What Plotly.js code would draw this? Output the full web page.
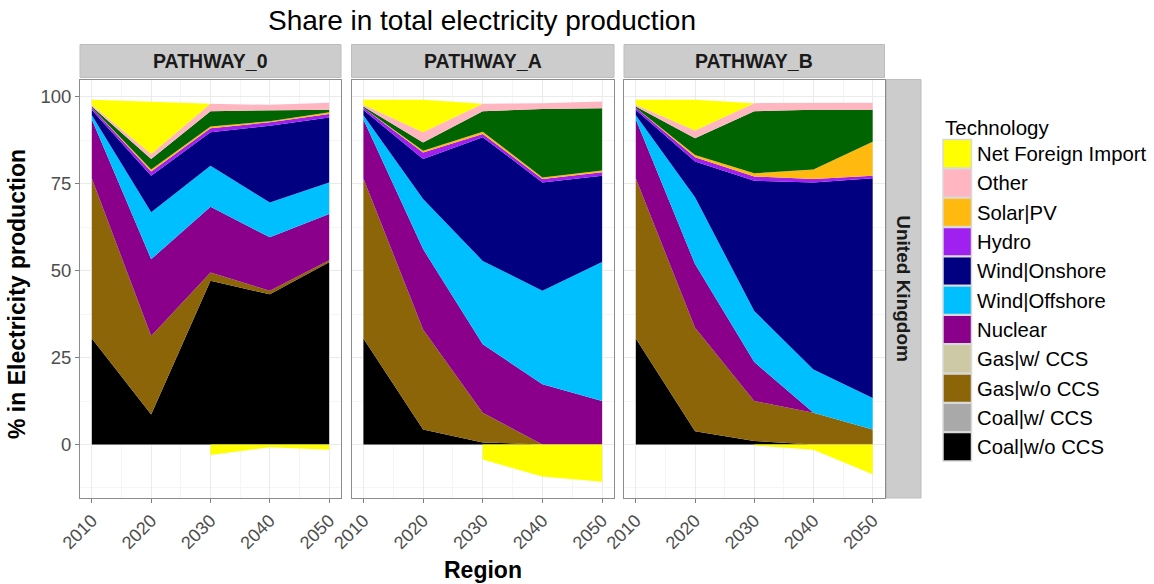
<!DOCTYPE html>
<html><head><meta charset="utf-8">
<script src="https://cdn.plot.ly/plotly-3.0.1.min.js"></script>
<style>html,body{margin:0;padding:0;background:#fff}#chart{width:1154px;height:584px}</style>
</head><body><div id="chart"></div>
<script>
// ---------- data ----------
const years = [2010, 2020, 2030, 2040, 2050];
const yearLabels = ['2010', '2020', '2030', '2040', '2050'];
const pathwayNames = ['PATHWAY_0', 'PATHWAY_A', 'PATHWAY_B'];
const regionName = 'United Kingdom';

// stacking order, bottom to top
const techOrder = ['Coal|w/o CCS', 'Coal|w/ CCS', 'Gas|w/o CCS', 'Gas|w/ CCS', 'Nuclear',
  'Wind|Offshore', 'Wind|Onshore', 'Hydro', 'Solar|PV', 'Biomass', 'Other', 'Net Foreign Import'];
const techColors = ['#000000', '#A9A9A9', '#8B6508', '#CDC9A5', '#8B008B',
  '#00BFFF', '#000080', '#A020F0', '#FFB90F', '#006400', '#FFB6C1', '#FFFF00'];
// legend entries (top to bottom)
const legendNames = ['Net Foreign Import', 'Other', 'Solar|PV', 'Hydro', 'Wind|Onshore', 'Wind|Offshore',
  'Nuclear', 'Gas|w/ CCS', 'Gas|w/o CCS', 'Coal|w/ CCS', 'Coal|w/o CCS'];

// PATHWAY_0
const p0_coal     = [30.5, 8.6, 47.1, 43.2, 52.4];
const p0_coalCCS  = [0, 0, 0, 0, 0];
const p0_gas      = [46.0, 22.6, 2.4, 1.0, 0.6];
const p0_gasCCS   = [0, 0, 0, 0, 0];
const p0_nuclear  = [17.0, 22.1, 18.9, 15.4, 13.3];
const p0_offshore = [1.2, 13.5, 11.8, 10.0, 9.1];
const p0_onshore  = [1.5, 10.5, 9.6, 22.1, 18.7];
const p0_hydro    = [0.7, 1.2, 1.2, 1.0, 1.0];
const p0_solar    = [0.0, 0.6, 0.5, 0.3, 0.5];
const p0_biomass  = [0.3, 3.0, 4.4, 3.1, 0.7];
const p0_other    = [0.5, 1.5, 2.1, 1.6, 2.0];
const p0_import   = [1.5, 15.0, -3.0, -0.8, -1.5];

// PATHWAY_A
const pA_coal     = [30.5, 4.3, 0.6, 0, 0];
const pA_coalCCS  = [0, 0, 0, 0, 0];
const pA_gas      = [46.0, 28.8, 8.5, 0, 0];
const pA_gasCCS   = [0, 0, 0, 0, 0];
const pA_nuclear  = [17.0, 23.1, 19.7, 17.3, 12.5];
const pA_offshore = [1.2, 14.4, 24.0, 26.9, 40.0];
const pA_onshore  = [1.5, 11.5, 35.6, 31.2, 24.8];
const pA_hydro    = [0.7, 1.9, 0.9, 1.0, 1.0];
const pA_solar    = [0.0, 0.5, 0.7, 0.4, 0.5];
const pA_biomass  = [0.3, 2.4, 5.9, 19.7, 17.9];
const pA_other    = [0.5, 2.9, 2.1, 1.7, 2.0];
const pA_import   = [1.5, 9.4, -4.3, -9.2, -10.7];

// PATHWAY_B
const pB_coal     = [30.5, 3.8, 1.0, 0, 0];
const pB_coalCCS  = [0, 0, 0, 0, 0];
const pB_gas      = [46.0, 29.8, 11.5, 9.1, 4.3];
const pB_gasCCS   = [0, 0, 0, 0, 0];
const pB_nuclear  = [17.0, 18.3, 11.2, 0, 0];
const pB_offshore = [1.2, 19.2, 14.7, 12.5, 9.1];
const pB_onshore  = [1.5, 10.3, 37.5, 53.8, 63.2];
const pB_hydro    = [0.7, 1.2, 1.2, 1.0, 0.7];
const pB_solar    = [0.0, 0.7, 0.9, 2.7, 9.8];
const pB_biomass  = [0.3, 4.8, 17.9, 17.2, 9.2];
const pB_other    = [0.5, 2.2, 2.3, 1.9, 2.0];
const pB_import   = [1.5, 8.9, -0.3, -1.5, -8.6];

const yTicks = [0, 25, 50, 75, 100];

// ---------- layout helpers ----------
const W = 1154, H = 584;
const fx = v => v / W;
const fy = v => 1 - v / H;
const FONT = '"Liberation Sans", Arial, Helvetica, sans-serif';

const panels = [
  {series: [p0_coal, p0_coalCCS, p0_gas, p0_gasCCS, p0_nuclear, p0_offshore, p0_onshore, p0_hydro, p0_solar, p0_biomass, p0_other, p0_import], x0: 80, x1: 341, xa: 'x', ya: 'y'},
  {series: [pA_coal, pA_coalCCS, pA_gas, pA_gasCCS, pA_nuclear, pA_offshore, pA_onshore, pA_hydro, pA_solar, pA_biomass, pA_other, pA_import], x0: 351.5, x1: 614, xa: 'x2', ya: 'y2'},
  {series: [pB_coal, pB_coalCCS, pB_gas, pB_gasCCS, pB_nuclear, pB_offshore, pB_onshore, pB_hydro, pB_solar, pB_biomass, pB_other, pB_import], x0: 624, x1: 884.5, xa: 'x3', ya: 'y3'}
];
const panelTop = 79.5, panelBot = 498;

const traces = [];
panels.forEach((p, pi) => {
  p.series.forEach((arr, ti) => {
    const isImport = ti === p.series.length - 1;
    traces.push({
      type: 'scatter', mode: 'lines', x: years,
      y: isImport ? arr.map(v => Math.max(v, 0)) : arr,
      stackgroup: 'stack' + pi, line: {width: 0, color: techColors[ti]},
      fillcolor: techColors[ti], xaxis: p.xa, yaxis: p.ya,
      name: techOrder[ti], showlegend: false, hoverinfo: 'skip'
    });
    if (isImport) {
      const nx = [], ny = [];
      arr.forEach((v, k) => { if (v < 0) { nx.push(years[k]); ny.push(v); } });
      traces.push({
        type: 'scatter', mode: 'lines', x: nx, y: ny, fill: 'tozeroy',
        line: {width: 0, color: techColors[ti]}, fillcolor: techColors[ti],
        xaxis: p.xa, yaxis: p.ya, showlegend: false, hoverinfo: 'skip'
      });
    }
  });
});

const layout = {
  width: W, height: H, margin: {l: 0, r: 0, t: 0, b: 0},
  paper_bgcolor: '#ffffff', plot_bgcolor: '#ffffff', showlegend: false,
  font: {family: FONT, color: '#000'},
  shapes: [], annotations: []
};

panels.forEach((p, i) => {
  const sfx = i === 0 ? '' : String(i + 1);
  layout['xaxis' + sfx] = {
    domain: [fx(p.x0), fx(p.x1)], anchor: 'y' + sfx, range: [2008, 2052],
    tickmode: 'array', tickvals: years, ticktext: yearLabels, tickangle: -45,
    ticks: 'outside', ticklen: 4, tickcolor: '#7f7f7f', tickwidth: 1,
    tickfont: {size: 18, color: '#4d4d4d', family: FONT},
    showgrid: true, gridcolor: '#ebebeb', gridwidth: 1, zeroline: false,
    minor: {tickvals: [2015, 2025, 2035, 2045], showgrid: true, gridcolor: '#f5f5f5', gridwidth: 1, ticks: ''},
    showline: true, linecolor: '#8c8c8c', linewidth: 1, mirror: true, fixedrange: true
  };
  layout['yaxis' + sfx] = {
    domain: [fy(panelBot), fy(panelTop)], anchor: 'x' + sfx, range: [-15.4, 105],
    tickmode: 'array', tickvals: yTicks, ticktext: yTicks.map(String),
    ticks: i === 0 ? 'outside' : '', ticklen: 4, tickcolor: '#7f7f7f', tickwidth: 1,
    showticklabels: i === 0, tickfont: {size: 18.5, color: '#4d4d4d', family: FONT},
    showgrid: true, gridcolor: '#ebebeb', gridwidth: 1, zeroline: false,
    minor: {tickvals: [-12.5, 12.5, 37.5, 62.5, 87.5], showgrid: true, gridcolor: '#f5f5f5', gridwidth: 1, ticks: ''},
    showline: true, linecolor: '#8c8c8c', linewidth: 1, mirror: true, fixedrange: true
  };
  // top strip
  layout.shapes.push({type: 'rect', xref: 'paper', yref: 'paper', x0: fx(p.x0), x1: fx(p.x1), y0: fy(77.5), y1: fy(44.5),
    fillcolor: '#cccccc', line: {color: '#bdbdbd', width: 1}, layer: 'below'});
  layout.annotations.push({xref: 'paper', yref: 'paper', x: fx((p.x0 + p.x1) / 2), y: fy(61), text: pathwayNames[i],
    showarrow: false, xanchor: 'center', yanchor: 'middle', font: {size: 19.5, color: '#1a1a1a', weight: 'bold', family: FONT}});
});

// right strip
layout.shapes.push({type: 'rect', xref: 'paper', yref: 'paper', x0: fx(886.5), x1: fx(921), y0: fy(panelBot), y1: fy(panelTop),
  fillcolor: '#cccccc', line: {color: '#bdbdbd', width: 1}, layer: 'below'});
layout.annotations.push({xref: 'paper', yref: 'paper', x: fx(903.5), y: fy((panelTop + panelBot) / 2), text: regionName,
  textangle: 90, showarrow: false, xanchor: 'center', yanchor: 'middle', font: {size: 19, color: '#1a1a1a', weight: 'bold', family: FONT}});

// titles
layout.annotations.push({xref: 'paper', yref: 'paper', x: fx(482), y: fy(21), text: 'Share in total electricity production',
  showarrow: false, xanchor: 'center', yanchor: 'middle', font: {size: 28, color: '#000', family: FONT}});
layout.annotations.push({xref: 'paper', yref: 'paper', x: fx(483), y: fy(570), text: 'Region',
  showarrow: false, xanchor: 'center', yanchor: 'middle', font: {size: 23, color: '#000', weight: 'bold', family: FONT}});
layout.annotations.push({xref: 'paper', yref: 'paper', x: fx(17), y: fy(294), text: '% in Electricity production', textangle: -90,
  showarrow: false, xanchor: 'center', yanchor: 'middle', font: {size: 23, color: '#000', weight: 'bold', family: FONT}});

// legend
layout.annotations.push({xref: 'paper', yref: 'paper', x: fx(943), y: fy(127), text: 'Technology',
  showarrow: false, xanchor: 'left', yanchor: 'middle', font: {size: 20.5, color: '#000', family: FONT}});
const keyTop = 139.5, keyStep = 29.3, keyW = 28.5;
legendNames.forEach((nm, k) => {
  const col = techColors[techOrder.indexOf(nm)];
  const y0 = keyTop + k * keyStep;
  layout.shapes.push({type: 'rect', xref: 'paper', yref: 'paper', x0: fx(943), x1: fx(943 + keyW), y0: fy(y0 + keyStep - 0.8), y1: fy(y0),
    fillcolor: col, line: {color: '#d9d9d9', width: 1.5}});
  layout.annotations.push({xref: 'paper', yref: 'paper', x: fx(975), y: fy(y0 + keyStep / 2), text: nm,
    showarrow: false, xanchor: 'left', yanchor: 'middle', font: {size: 20.3, color: '#000', family: FONT}});
});

Plotly.newPlot('chart', traces, layout, {staticPlot: true, displayModeBar: false});
</script>
</body></html>
